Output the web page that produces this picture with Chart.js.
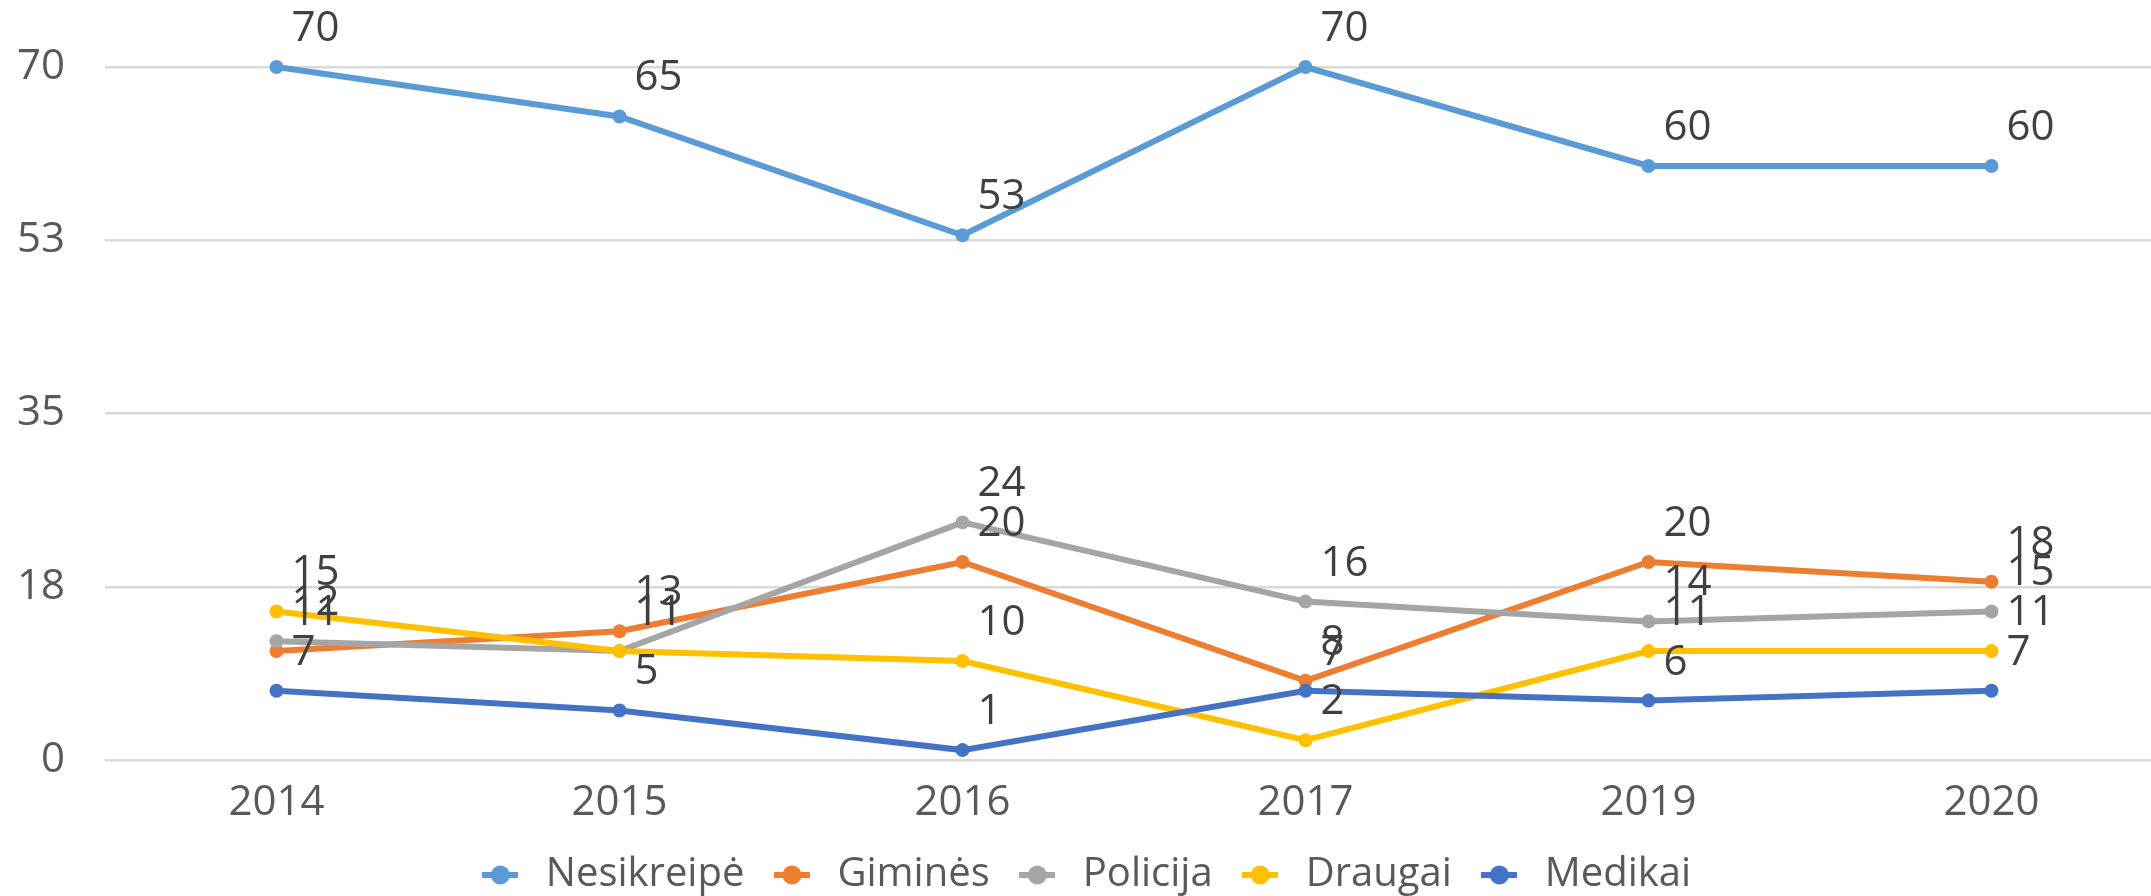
<!DOCTYPE html>
<html>
<head>
<meta charset="utf-8">
<script src="https://cdn.jsdelivr.net/npm/chart.js@4"></script>
<style>
    html, body { margin: 0; padding: 0; background: #fff; overflow: hidden; }
    #wrap { width: 2170px; height: 896px; }
</style>
</head>
<body>
<div id="wrap"><canvas id="chart"></canvas></div>
<script>
const years = ['2014', '2015', '2016', '2017', '2019', '2020'];
const seriesNames = ['Nesikreipė', 'Giminės', 'Policija', 'Draugai', 'Medikai'];
const seriesColors = ['#5B9BD5', '#ED7D31', '#A5A5A5', '#FFC000', '#4472C4'];

const nesikreipe = [70, 65, 53, 70, 60, 60];
const gimines = [11, 13, 20, 8, 20, 18];
const policija = [12, 11, 24, 16, 14, 15];
const draugai = [15, 11, 10, 2, 11, 11];
const medikai = [7, 5, 1, 7, 6, 7];

const yTicks = [0, 17.5, 35, 52.5, 70];

const seriesValues = [nesikreipe, gimines, policija, draugai, medikai];

Chart.defaults.font.family = "'Open Sans', sans-serif";

// line + dot marker for the legend, like the office style
const legendMarker = (color) => {
    const c = document.createElement('canvas');
    c.width = 36; c.height = 20;
    const g = c.getContext('2d');
    g.strokeStyle = color;
    g.lineWidth = 6;
    g.beginPath(); g.moveTo(0, 10); g.lineTo(36, 10); g.stroke();
    g.fillStyle = color;
    g.beginPath(); g.arc(18, 10, 9.5, 0, Math.PI * 2); g.fill();
    return c;
};

const valueLabels = {
    id: 'valueLabels',
    afterDatasetsDraw(chart) {
        const ctx = chart.ctx;
        ctx.save();
        ctx.font = "42px 'Open Sans', sans-serif";
        ctx.fillStyle = '#404040';
        ctx.textAlign = 'left';
        ctx.textBaseline = 'middle';
        chart.data.datasets.forEach((ds, i) => {
            chart.getDatasetMeta(i).data.forEach((pt, j) => {
                ctx.fillText(String(ds.data[j]), pt.x + 15, pt.y - 38);
            });
        });
        ctx.restore();
    }
};

const ctx = document.getElementById('chart').getContext('2d');
new Chart(ctx, {
    type: 'line',
    data: {
        labels: years,
        datasets: seriesNames.map((name, i) => ({
            label: name,
            data: seriesValues[i],
            borderColor: seriesColors[i],
            backgroundColor: seriesColors[i],
            borderWidth: 6,
            pointRadius: 7,
            pointBorderWidth: 0,
            pointBackgroundColor: seriesColors[i],
            tension: 0,
            clip: false,
            order: seriesNames.length - i
        }))
    },
    options: {
        responsive: true,
        maintainAspectRatio: false,
        animation: false,
        layout: { padding: { top: 67, right: 4, bottom: -9, left: 0 } },
        scales: {
            x: {
                offset: true,
                afterFit: (scale) => { scale.height = 73; },
                grid: { display: false, drawTicks: false },
                border: { display: false },
                ticks: { color: '#595959', font: { size: 42 }, padding: 18, maxRotation: 0 }
            },
            y: {
                min: 0,
                max: 70,
                afterBuildTicks: (scale) => { scale.ticks = yTicks.map(v => ({ value: v })); },
                afterFit: (scale) => { scale.width = 105; },
                grid: { color: '#D9D9D9', lineWidth: 2.5, drawTicks: false },
                border: { display: false },
                ticks: {
                    color: '#595959',
                    font: { size: 42 },
                    padding: 40,
                    callback: (v) => Math.round(v)
                }
            }
        },
        plugins: {
            tooltip: { enabled: false },
            legend: {
                position: 'bottom',
                labels: {
                    color: '#595959',
                    font: { size: 40 },
                    padding: 22,
                    usePointStyle: true,
                    pointStyleWidth: 51,
                    generateLabels: (chart) => chart.data.datasets.map((ds, i) => ({
                        text: ds.label,
                        fontColor: '#595959',
                        pointStyle: legendMarker(seriesColors[i]),
                        datasetIndex: i,
                        hidden: false,
                        lineWidth: 0
                    }))
                }
            }
        }
    },
    plugins: [valueLabels]
});
</script>
</body>
</html>
